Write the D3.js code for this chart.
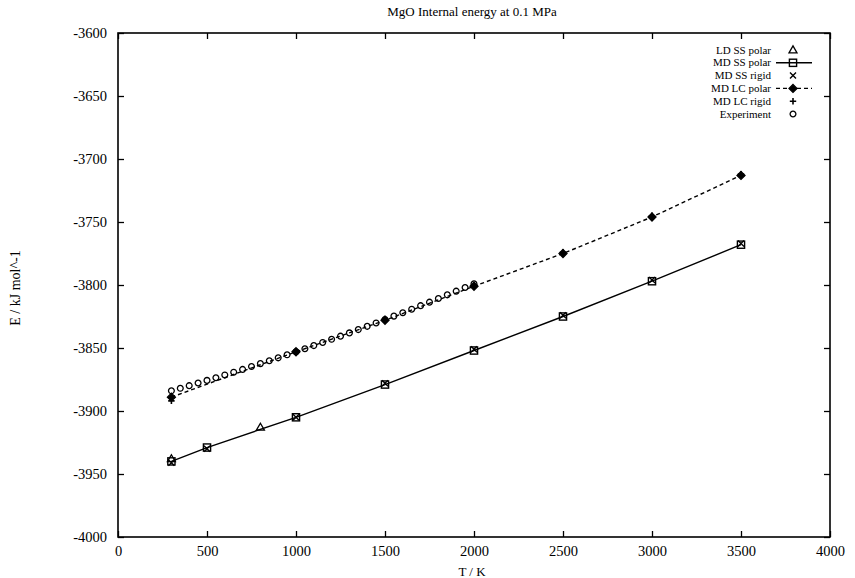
<!DOCTYPE html>
<html>
<head>
<meta charset="utf-8">
<script src="https://cdn.jsdelivr.net/npm/d3@7"></script>
<style>
  html, body { margin: 0; padding: 0; background: #fff; }
  svg { display: block; }
  text { font-family: "Liberation Serif", "DejaVu Serif", serif; fill: #000; }
</style>
</head>
<body>
<svg id="chart" width="855" height="578"></svg>
<script>
// ---- Data ----
const xTicks = [0, 500, 1000, 1500, 2000, 2500, 3000, 3500, 4000];
const yTicks = [-3600, -3650, -3700, -3750, -3800, -3850, -3900, -3950, -4000];

const ldTemps = [300, 800];
const ldSSpolar = [-3938, -3913];

const ssTemps = [300, 500, 1000, 1500, 2000, 2500, 3000, 3500];
const mdSSpolar = [-3940, -3929, -3905, -3879, -3852, -3825, -3797, -3768];
const mdSSrigid = [-3941, -3930, -3905, -3878, -3851, -3824, -3796, -3767];

const lcTemps = [300, 1000, 1500, 2000, 2500, 3000, 3500];
const mdLCpolar = [-3889, -3853, -3828, -3801, -3775, -3746, -3713];
const mdLCrigid = [-3892, -3853, -3827, -3800, -3774, -3745, -3712];

const expTemps = [300, 350, 400, 450, 500, 550, 600, 650, 700, 750, 800, 850, 900, 950,
  1000, 1050, 1100, 1150, 1200, 1250, 1300, 1350, 1400, 1450, 1500, 1550, 1600, 1650,
  1700, 1750, 1800, 1850, 1900, 1950, 2000];
const expValues = [-3884.0, -3882.0, -3879.9, -3877.8, -3875.7, -3873.6, -3871.4, -3869.2,
  -3867.0, -3864.7, -3862.4, -3860.1, -3857.8, -3855.4, -3853.0, -3850.6, -3848.1, -3845.6,
  -3843.1, -3840.6, -3838.0, -3835.4, -3832.8, -3830.1, -3827.4, -3824.7, -3822.0, -3819.2,
  -3816.4, -3813.6, -3810.7, -3807.8, -3804.9, -3802.0, -3799.0];

const legendLabels = ["LD SS polar", "MD SS polar", "MD SS rigid", "MD LC polar", "MD LC rigid", "Experiment"];

// ---- Layout ----
const W = 855, H = 578;
const margin = { left: 118, right: 25, top: 33, bottom: 41 };
const pw = W - margin.left - margin.right;
const ph = H - margin.top - margin.bottom;

const svg = d3.select("#chart");
const g = svg.append("g").attr("transform", `translate(${margin.left},${margin.top})`);

const x = d3.scaleLinear().domain([0, 4000]).range([0, pw]);
const y = d3.scaleLinear().domain([-4000, -3600]).range([ph, 0]);

// Title
svg.append("text").attr("x", margin.left + pw / 2 - 2).attr("y", 16)
  .attr("text-anchor", "middle").style("font-size", "13px")
  .text("MgO Internal energy at 0.1 MPa");

// Axes (inward ticks on all four sides)
const tickLen = 6;
const axB = g.append("g").attr("transform", `translate(0,${ph})`)
  .call(d3.axisBottom(x).tickValues(xTicks).tickSizeInner(-tickLen).tickSizeOuter(0).tickPadding(9).tickFormat(d3.format("d")));
const axT = g.append("g")
  .call(d3.axisTop(x).tickValues(xTicks).tickSizeInner(-tickLen).tickSizeOuter(0).tickFormat(""));
const axL = g.append("g")
  .call(d3.axisLeft(y).tickValues(yTicks).tickSizeInner(-tickLen).tickSizeOuter(0).tickPadding(11).tickFormat(d => String(d)));
const axR = g.append("g").attr("transform", `translate(${pw},0)`)
  .call(d3.axisRight(y).tickValues(yTicks).tickSizeInner(-tickLen).tickSizeOuter(0).tickFormat(""));
[axB, axT, axL, axR].forEach(a => {
  a.select(".domain").remove();
  a.selectAll("line").attr("stroke", "#000").attr("stroke-width", 1.3);
  a.selectAll("text").style("font-size", "14.5px").style("font-family", "'Liberation Serif', serif");
});
g.append("rect").attr("x", 0).attr("y", 0).attr("width", pw).attr("height", ph)
  .attr("fill", "none").attr("stroke", "#000").attr("stroke-width", 1.6);

// Axis titles
svg.append("text").attr("x", margin.left + pw / 2 - 2).attr("y", 576)
  .attr("text-anchor", "middle").style("font-size", "13px").text("T / K");
svg.append("text").attr("transform", "translate(20,288) rotate(-90)")
  .attr("text-anchor", "middle").style("font-size", "14px").text("E / kJ mol^-1");

// ---- Marker drawing helpers ----
function drawMarker(sel, type) {
  const s = 3.6;
  if (type === "triangle") {
    sel.append("path").attr("d", `M0,${-s - 0.5}L${s + 0.4},${s - 0.8}L${-s - 0.4},${s - 0.8}Z`)
      .attr("fill", "none").attr("stroke", "#000").attr("stroke-width", 1.3);
  } else if (type === "square") {
    sel.append("rect").attr("x", -s).attr("y", -s).attr("width", 2 * s).attr("height", 2 * s)
      .attr("fill", "none").attr("stroke", "#000").attr("stroke-width", 1.4);
  } else if (type === "cross") {
    sel.append("path").attr("d", `M${-3},${-3}L3,3M${-3},3L3,${-3}`)
      .attr("stroke", "#000").attr("stroke-width", 1.4);
  } else if (type === "diamondplus") {
    sel.append("path").attr("d", `M0,${-s - 0.4}L${s + 0.4},0L0,${s + 0.4}L${-s - 0.4},0Z`)
      .attr("fill", "#000").attr("stroke", "#000").attr("stroke-width", 1.3);
  } else if (type === "plus") {
    sel.append("path").attr("d", `M-3.2,0L3.2,0M0,-3.2L0,3.2`)
      .attr("stroke", "#000").attr("stroke-width", 1.6);
  } else if (type === "circle") {
    sel.append("circle").attr("r", 2.9)
      .attr("fill", "none").attr("stroke", "#000").attr("stroke-width", 1.3);
  }
}

function plotSeries(temps, vals, type, lineStyle) {
  const pts = temps.map((t, i) => [t, vals[i]]);
  if (lineStyle) {
    const line = d3.line().x(d => x(d[0])).y(d => y(d[1]));
    g.append("path").datum(pts).attr("d", line).attr("fill", "none")
      .attr("stroke", "#000").attr("stroke-width", 1.4)
      .attr("stroke-dasharray", lineStyle === "dash" ? "4,3" : null);
  }
  g.append("g").selectAll("g").data(pts).join("g")
    .attr("transform", d => `translate(${x(d[0])},${y(d[1])})`)
    .each(function () { drawMarker(d3.select(this), type); });
}

plotSeries(ssTemps, mdSSpolar, "square", "solid");
plotSeries(lcTemps, mdLCpolar, "diamondplus", "dash");
plotSeries(expTemps, expValues, "circle", null);
plotSeries(ldTemps, ldSSpolar, "triangle", null);
plotSeries(ssTemps, mdSSrigid, "cross", null);
plotSeries(lcTemps, mdLCrigid, "plus", null);

// ---- Legend ----
const legTypes = ["triangle", "square", "cross", "diamondplus", "plus", "circle"];
const legLines = [null, "solid", null, "dash", null, null];
const legTextX = 771, legSymX = 793, legY0 = 50, legStep = 12.8;
legendLabels.forEach((lab, i) => {
  const yy = legY0 + i * legStep;
  svg.append("text").attr("x", legTextX).attr("y", yy).attr("dy", "0.33em")
    .attr("text-anchor", "end").style("font-size", "11px").text(lab);
  if (legLines[i]) {
    svg.append("line").attr("x1", 776).attr("x2", 812).attr("y1", yy).attr("y2", yy)
      .attr("stroke", "#000").attr("stroke-width", 1.4)
      .attr("stroke-dasharray", legLines[i] === "dash" ? "4,3" : null);
  }
  const mg = svg.append("g").attr("transform", `translate(${legSymX},${yy})`);
  drawMarker(mg, legTypes[i]);
});
</script>
</body>
</html>
